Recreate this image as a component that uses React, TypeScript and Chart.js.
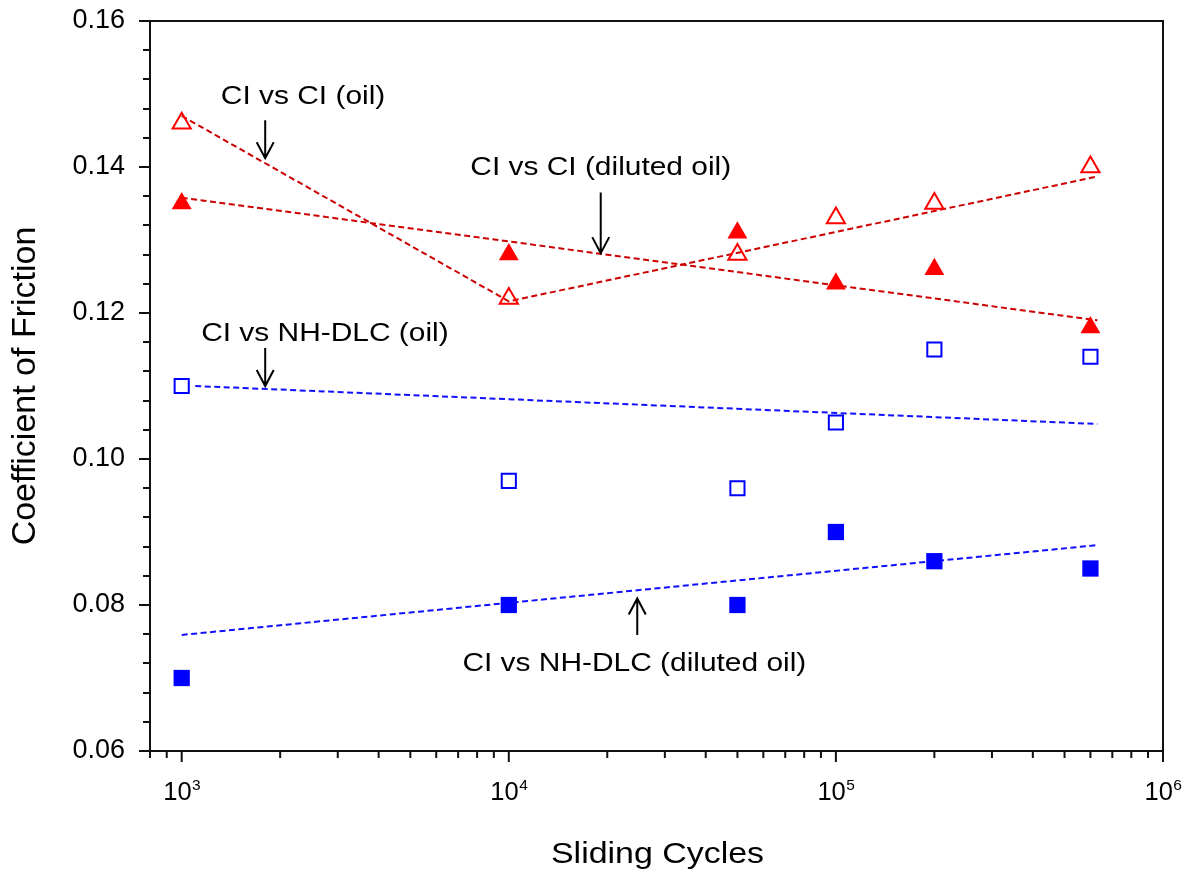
import React, { useEffect, useRef } from "react";
import { Chart, registerables } from "chart.js";

Chart.register(...registerables);

// Sliding cycles at which friction was measured
const cycles = [1e3, 1e4, 5e4, 1e5, 2e5, 6e5];

// Coefficient of friction for each pairing / lubricant
const ciOil = [0.146, 0.122, 0.128, 0.133, 0.135, 0.14];
const ciDiluted = [0.135, 0.128, 0.131, 0.124, 0.126, 0.118];
const dlcOil = [0.11, 0.097, 0.096, 0.105, 0.115, 0.114];
const dlcDiluted = [0.07, 0.08, 0.08, 0.09, 0.086, 0.085];

// Trend lines (x in cycles, y in friction coefficient)
const ciOilFitX = [1e3, 1e4, 6.3e5];
const ciOilFitY = [0.147, 0.1216, 0.1387];
const ciDilutedFitX = [1e3, 6.3e5];
const ciDilutedFitY = [0.1358, 0.119];
const dlcOilFitX = [1.1e3, 6.3e5];
const dlcOilFitY = [0.11, 0.1048];
const dlcDilutedFitX = [1e3, 6.3e5];
const dlcDilutedFitY = [0.0759, 0.0882];

// Axis ticks
const yMajorTicks = [0.06, 0.08, 0.1, 0.12, 0.14, 0.16];
const xTickExponents = [3, 4, 5, 6];

// Callout labels with their arrows, in data coordinates
const noteLabels = [
  "CI vs CI (oil)",
  "CI vs CI (diluted oil)",
  "CI vs NH-DLC (oil)",
  "CI vs NH-DLC (diluted oil)",
];
const noteTextX = [2.35e3, 1.91e4, 2.74e3, 2.42e4];
const noteTextY = [0.1486, 0.1389, 0.1161, 0.0709];
const arrowX = [1.8e3, 1.91e4, 1.8e3, 2.47e4];
const arrowFromY = [0.1464, 0.1365, 0.1152, 0.0759];
const arrowToY = [0.1412, 0.1282, 0.11, 0.0809];

const FONT = "'Liberation Sans', Arial, Helvetica, sans-serif";
const RED = "#ff0000";
const RED_LINE = "#cc0000";
const BLUE = "#0000ff";
const BLUE_LINE = "#1010ff";

const pts = (xs: number[], ys: number[]) => xs.map((x, i) => ({ x, y: ys[i] }));

const decor = {
  id: "decor",
  beforeDatasetsDraw(chart: any) {
    const { ctx, chartArea: a, scales } = chart;
    const xs = scales.x;
    const ys = scales.y;
    ctx.save();
    ctx.strokeStyle = "#111";
    ctx.lineWidth = 2;
    ctx.strokeRect(a.left, a.top, a.right - a.left, a.bottom - a.top);

    // y tick marks: majors every 0.02, minors every 0.004
    ctx.beginPath();
    for (let i = 0; i <= 25; i++) {
      const v = 0.06 + i * 0.004;
      const py = Math.round(ys.getPixelForValue(v));
      const len = i % 5 === 0 ? 11 : 7;
      ctx.moveTo(a.left - len, py);
      ctx.lineTo(a.left, py);
    }
    // x tick marks: decades major, 2..9 minor
    for (let d = 2; d <= 6; d++) {
      for (let k = 1; k <= 9; k++) {
        const v = k * Math.pow(10, d);
        if (v < xs.min - 1e-6 || v > xs.max + 1e-6) continue;
        const px = xs.getPixelForValue(v);
        const len = k === 1 ? 11 : 7;
        ctx.moveTo(px, a.bottom);
        ctx.lineTo(px, a.bottom + len);
      }
    }
    ctx.stroke();
    ctx.restore();
  },
  afterDraw(chart: any) {
    const { ctx, chartArea: a, scales } = chart;
    const xs = scales.x;
    const ys = scales.y;
    ctx.save();
    ctx.fillStyle = "#000";
    ctx.strokeStyle = "#000";

    // x tick labels as powers of ten
    xTickExponents.forEach((e) => {
      const px = xs.getPixelForValue(Math.pow(10, e));
      ctx.font = `25.5px ${FONT}`;
      const base = "10";
      const wBase = ctx.measureText(base).width;
      ctx.font = `15.5px ${FONT}`;
      const sup = String(e);
      const wSup = ctx.measureText(sup).width;
      const left = px - (wBase + wSup) / 2;
      ctx.textBaseline = "alphabetic";
      ctx.textAlign = "left";
      ctx.font = `25.5px ${FONT}`;
      ctx.fillText(base, left, a.bottom + 49);
      ctx.font = `15.5px ${FONT}`;
      ctx.fillText(sup, left + wBase + 0.5, a.bottom + 39);
    });

    // x axis title
    ctx.save();
    ctx.font = `29.5px ${FONT}`;
    ctx.textAlign = "center";
    ctx.textBaseline = "alphabetic";
    ctx.translate((a.left + a.right) / 2 + 1, chart.height - 8.5);
    ctx.scale(1.15, 1);
    ctx.fillText("Sliding Cycles", 0, 0);
    ctx.restore();

    // callouts
    noteLabels.forEach((label, i) => {
      const tx = xs.getPixelForValue(noteTextX[i]);
      const ty = ys.getPixelForValue(noteTextY[i]);
      ctx.save();
      ctx.font = `26px ${FONT}`;
      ctx.textAlign = "center";
      ctx.textBaseline = "alphabetic";
      ctx.translate(tx, ty);
      ctx.scale(1.15, 1);
      ctx.fillText(label, 0, 0);
      ctx.restore();

      const ax = xs.getPixelForValue(arrowX[i]);
      const y1 = ys.getPixelForValue(arrowFromY[i]);
      const y2 = ys.getPixelForValue(arrowToY[i]);
      const dir = y2 > y1 ? 1 : -1;
      ctx.lineWidth = 2;
      ctx.beginPath();
      ctx.moveTo(ax, y1);
      ctx.lineTo(ax, y2);
      ctx.moveTo(ax - 8.5, y2 - dir * 16);
      ctx.lineTo(ax, y2);
      ctx.lineTo(ax + 8.5, y2 - dir * 16);
      ctx.stroke();
    });
    ctx.restore();
  },
};

export default function App() {
  const ref = useRef<HTMLCanvasElement | null>(null);

  useEffect(() => {
    if (!ref.current) return;
    const chart = new Chart(ref.current, {
      type: "scatter",
      data: {
        datasets: [
          {
            label: "CI vs CI (oil)",
            data: pts(cycles, ciOil),
            showLine: false,
            pointStyle: "triangle",
            pointRadius: 10.5,
            pointBorderWidth: 2,
            pointBorderColor: RED,
            pointBackgroundColor: "rgba(0,0,0,0)",
          },
          {
            label: "CI vs CI (diluted oil)",
            data: pts(cycles, ciDiluted),
            showLine: false,
            pointStyle: "triangle",
            pointRadius: 11.5,
            pointBorderWidth: 0,
            pointBorderColor: RED,
            pointBackgroundColor: RED,
          },
          {
            label: "CI vs NH-DLC (oil)",
            data: pts(cycles, dlcOil),
            showLine: false,
            pointStyle: "rect",
            pointRadius: 10,
            pointBorderWidth: 2,
            pointBorderColor: BLUE,
            pointBackgroundColor: "rgba(0,0,0,0)",
          },
          {
            label: "CI vs NH-DLC (diluted oil)",
            data: pts(cycles, dlcDiluted),
            showLine: false,
            pointStyle: "rect",
            pointRadius: 11.5,
            pointBorderWidth: 0,
            pointBorderColor: BLUE,
            pointBackgroundColor: BLUE,
          },
          {
            label: "fit CI oil",
            data: pts(ciOilFitX, ciOilFitY),
            showLine: true,
            pointRadius: 0,
            borderColor: RED_LINE,
            borderWidth: 2,
            borderDash: [6, 3.5],
            tension: 0,
          },
          {
            label: "fit CI diluted",
            data: pts(ciDilutedFitX, ciDilutedFitY),
            showLine: true,
            pointRadius: 0,
            borderColor: RED_LINE,
            borderWidth: 2,
            borderDash: [6, 3.5],
          },
          {
            label: "fit DLC oil",
            data: pts(dlcOilFitX, dlcOilFitY),
            showLine: true,
            pointRadius: 0,
            borderColor: BLUE_LINE,
            borderWidth: 2,
            borderDash: [6, 3.5],
          },
          {
            label: "fit DLC diluted",
            data: pts(dlcDilutedFitX, dlcDilutedFitY),
            showLine: true,
            pointRadius: 0,
            borderColor: BLUE_LINE,
            borderWidth: 2,
            borderDash: [6, 3.5],
          },
        ],
      },
      options: {
        responsive: false,
        devicePixelRatio: 1,
        animation: false,
        events: [],
        layout: { padding: { left: 0, right: 31, top: 21, bottom: 0 } },
        plugins: {
          legend: { display: false },
          tooltip: { enabled: false },
          title: { display: false },
        },
        scales: {
          x: {
            type: "logarithmic",
            position: "bottom",
            min: 800,
            max: 1e6,
            grid: { display: false, drawTicks: false },
            border: { display: false },
            ticks: { display: false },
            title: { display: false },
            afterFit: (s: any) => {
              s.height = 120;
            },
          },
          y: {
            type: "linear",
            position: "left",
            min: 0.06,
            max: 0.16,
            // tick marks are drawn by the decor plugin; tickLength only offsets the labels
            grid: { display: false, drawTicks: true, tickLength: 25 },
            border: { display: false },
            afterBuildTicks: (s: any) => {
              s.ticks = yMajorTicks.map((v) => ({ value: v }));
            },
            ticks: {
              padding: 0,
              color: "#000",
              font: { family: FONT, size: 27 },
              callback: (v: any) => Number(v).toFixed(2),
            },
            title: {
              display: true,
              text: "Coefficient of Friction",
              color: "#000",
              font: { family: FONT, size: 34, lineHeight: 1 },
              padding: { top: 9, bottom: 0 },
            },
            afterFit: (s: any) => {
              s.width = 150;
            },
          },
        },
      },
      plugins: [decor],
    } as any);
    return () => chart.destroy();
  }, []);

  return (
    <div
      style={{
        position: "fixed",
        left: 0,
        top: 0,
        width: 1194,
        height: 871,
        background: "#fff",
      }}
    >
      <canvas
        ref={ref}
        width={1194}
        height={871}
        style={{ display: "block", width: 1194, height: 871 }}
      />
    </div>
  );
}
